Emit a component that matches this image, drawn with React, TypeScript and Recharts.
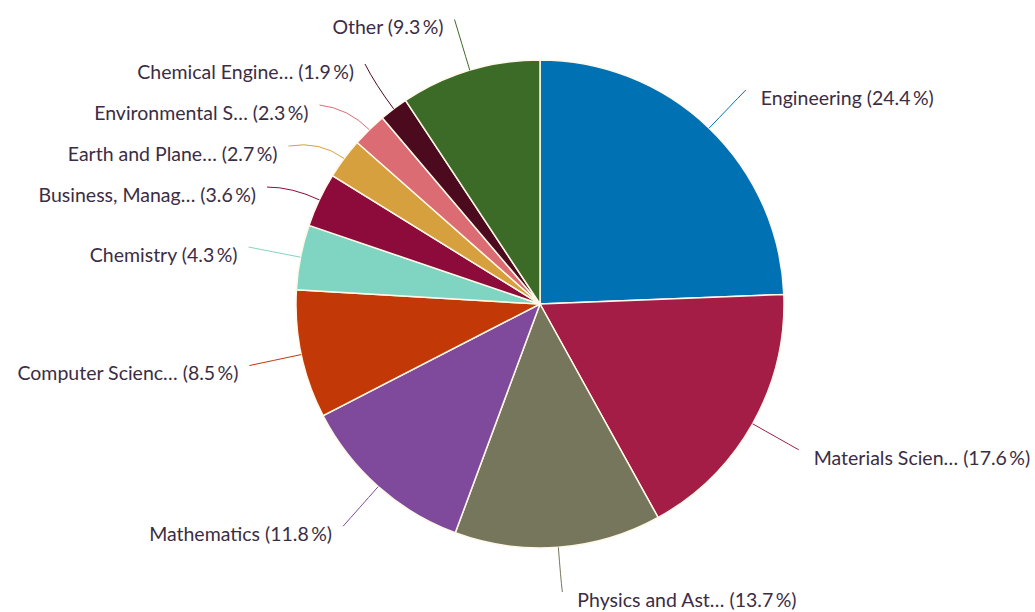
import { PieChart, Pie, Cell } from 'recharts';

const categories = [
  'Engineering',
  'Materials Scien…',
  'Physics and Ast…',
  'Mathematics',
  'Computer Scienc…',
  'Chemistry',
  'Business, Manag…',
  'Earth and Plane…',
  'Environmental S…',
  'Chemical Engine…',
  'Other',
];
const shares = [24.4, 17.6, 13.7, 11.8, 8.5, 4.3, 3.6, 2.7, 2.3, 1.9, 9.3];
const colors = [
  '#0072b3',
  '#a31d47',
  '#76765c',
  '#7f4a9c',
  '#c23806',
  '#7fd5c1',
  '#8c0b3b',
  '#d5a03d',
  '#dc6c73',
  '#4c0a1e',
  '#3c6b28',
];

const data = categories.map((name, i) => ({ name, value: shares[i] }));

const W = 1035;
const H = 612;
const LABEL_OFFSET = 53;
const GAP = 41;

type LabelPos = { v: number; x: number; y: number; ny: number; left: boolean };
type Cluster = { items: LabelPos[]; top: number };

// rough highcharts-style label spreading: overlapping labels on a side
// are grouped and centred on their value-weighted natural position
function layoutLabels(cx: number, cy: number, r: number): LabelPos[] {
  const total = shares.reduce((a, b) => a + b, 0);
  const R = r + LABEL_OFFSET;
  let acc = 0;
  const pts: LabelPos[] = shares.map((v) => {
    const mid = 90 - ((acc + v / 2) / total) * 360;
    acc += v;
    const rad = (mid * Math.PI) / 180;
    const x = cx + R * Math.cos(rad);
    const y = cy - R * Math.sin(rad);
    return { v, x, y, ny: y, left: x < cx };
  });

  [true, false].forEach((left) => {
    const side = pts.filter((p) => p.left === left).sort((a, b) => a.ny - b.ny);
    const clusters: Cluster[] = side.map((p) => ({ items: [p], top: p.ny }));
    const place = (c: Cluster) => {
      const w = c.items.reduce((s, p) => s + p.v, 0);
      const m = c.items.reduce((s, p) => s + p.v * p.ny, 0) / w;
      c.top = m - ((c.items.length - 1) * GAP) / 2;
    };
    let merged = true;
    while (merged) {
      merged = false;
      // walk from the bottom up so small groups settle before they meet others
      for (let k = clusters.length - 2; k >= 0; k--) {
        const a = clusters[k];
        const b = clusters[k + 1];
        if (a.top + a.items.length * GAP > b.top) {
          a.items = a.items.concat(b.items);
          place(a);
          clusters.splice(k + 1, 1);
          merged = true;
          break;
        }
      }
    }
    clusters.forEach((c) =>
      c.items.forEach((p, k) => {
        p.y = c.top + k * GAP;
      })
    );
  });

  pts.forEach((p) => {
    if (Math.abs(p.y - p.ny) > 0.5) {
      const dy = p.y - cy;
      const dx = Math.sqrt(Math.max(R * R - dy * dy, 0));
      p.x = cx + (p.left ? -dx : dx);
    }
    // keep the bottom label inside the picture
    if (p.y > H - 20) p.y = H - 20;
    if (p.y < 14) p.y = 14;
  });
  return pts;
}

const renderLabel = (props: any) => {
  const { cx, cy, midAngle, outerRadius, index } = props;
  const p = layoutLabels(cx, cy, outerRadius)[index];
  const rad = (-midAngle * Math.PI) / 180;
  const ex = cx + outerRadius * Math.cos(rad);
  const ey = cy + outerRadius * Math.sin(rad);
  const qx = cx + (outerRadius + 30) * Math.cos(rad);
  const qy = cy + (outerRadius + 30) * Math.sin(rad);
  return (
    <g key={`lbl-${index}`}>
      <path
        d={`M${ex},${ey}Q${qx},${qy} ${p.x},${p.y}`}
        stroke={colors[index]}
        strokeWidth={1}
        fill="none"
      />
      <text
        x={p.left ? p.x - 11 : p.x + 15}
        y={p.y + 8}
        dy="0.35em"
        textAnchor={p.left ? 'end' : 'start'}
        fill="#3b2d44"
        fontSize={19.5}
        fontFamily="Lato, sans-serif"
      >
        {`${categories[index]} (${shares[index]}\u2009%)`}
      </text>
    </g>
  );
};

export default function App() {
  return (
    <div style={{ width: W, height: H, background: '#fff' }}>
      <style>{`body { margin: 0; }`}</style>
      <PieChart width={W} height={H} margin={{ top: 0, right: 0, bottom: 0, left: 0 }}>
        <Pie
          data={data}
          dataKey="value"
          nameKey="name"
          cx={540}
          cy={304}
          outerRadius={244}
          startAngle={90}
          endAngle={-270}
          stroke="#fff8e8"
          strokeWidth={1.5}
          labelLine={false}
          label={renderLabel}
          isAnimationActive={false}
        >
          {data.map((d, i) => (
            <Cell key={d.name} fill={colors[i]} />
          ))}
        </Pie>
      </PieChart>
    </div>
  );
}
